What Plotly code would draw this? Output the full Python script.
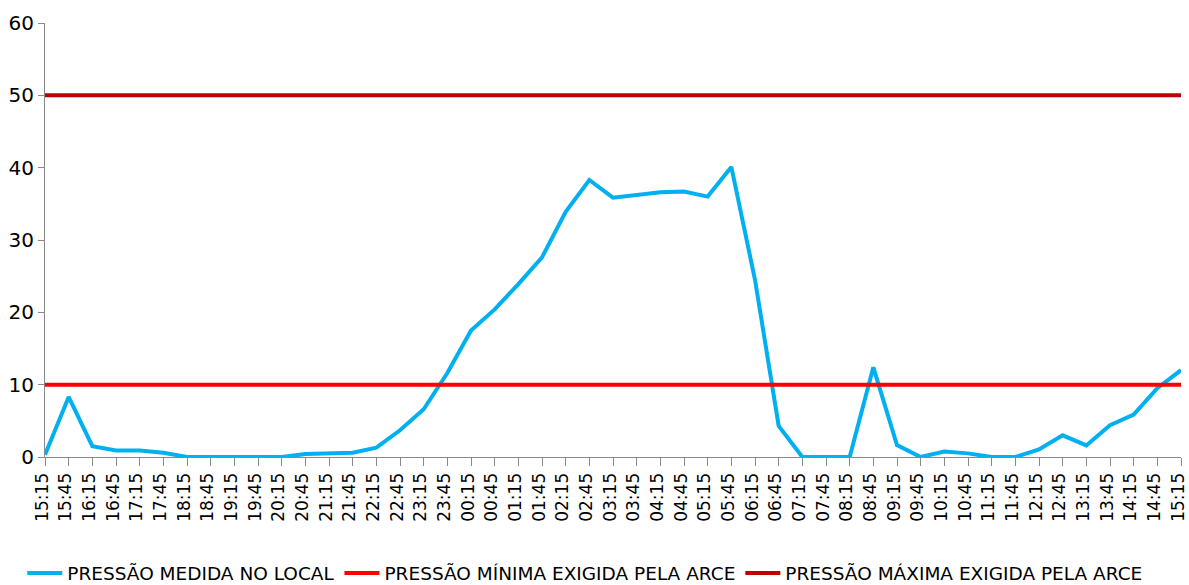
import plotly.graph_objects as go

times = ["15:15","15:45","16:15","16:45","17:15","17:45","18:15","18:45","19:15","19:45",
         "20:15","20:45","21:15","21:45","22:15","22:45","23:15","23:45","00:15","00:45",
         "01:15","01:45","02:15","02:45","03:15","03:45","04:15","04:45","05:15","05:45",
         "06:15","06:45","07:15","07:45","08:15","08:45","09:15","09:45","10:15","10:45",
         "11:15","11:45","12:15","12:45","13:15","13:45","14:15","14:45","15:15"]
medida = [0.3, 8.3, 1.5, 0.9, 0.9, 0.6, 0.0, 0.0, 0.0, 0.0,
          0.0, 0.4, 0.45, 0.6, 1.3, 3.7, 6.6, 11.6, 17.5, 20.4,
          23.9, 27.6, 33.9, 38.3, 35.85, 36.2, 36.6, 36.7, 36.0, 40.1,
          24.5, 4.3, 0.0, 0.0, 0.0, 12.4, 1.65, 0.0, 0.75, 0.5,
          0.0, 0.0, 1.05, 3.0, 1.6, 4.4, 5.85, 9.5, 12.0]
minima = [10] * len(times)
maxima = [50] * len(times)
idx = list(range(len(times)))

fig = go.Figure()
fig.add_trace(go.Scatter(x=idx, y=medida, mode="lines", name="PRESSÃO MEDIDA NO LOCAL",
                         line=dict(color="#00B0F0", width=4)))
fig.add_trace(go.Scatter(x=idx, y=minima, mode="lines", name="PRESSÃO MÍNIMA EXIGIDA PELA ARCE",
                         line=dict(color="#FF0000", width=4)))
fig.add_trace(go.Scatter(x=idx, y=maxima, mode="lines", name="PRESSÃO MÁXIMA EXIGIDA PELA ARCE",
                         line=dict(color="#C00000", width=4)))

fig.update_layout(
    width=1189, height=585,
    margin=dict(l=45, r=8, t=23, b=128, autoexpand=False),
    paper_bgcolor="white", plot_bgcolor="white",
    font=dict(family="DejaVu Sans", size=18, color="#000000"),
    showlegend=True,
    legend=dict(orientation="h", x=-0.020, xanchor="left", y=-0.2685, yanchor="middle",
                font=dict(size=18.5), itemwidth=35, tracegroupgap=0,
                bgcolor="rgba(0,0,0,0)"),
    xaxis=dict(range=[0, len(times) - 1], tickmode="array", tickvals=idx, ticktext=times,
               showgrid=False, automargin=False, ticklabeloverflow="allow",
               ticklabelshift=-3,
               showline=True, linecolor="#898989", linewidth=1,
               ticks="outside", ticklen=8, tickcolor="#898989",
               tickangle=-90, tickfont=dict(size=17), zeroline=False),
    yaxis=dict(range=[0, 60], dtick=10, showgrid=False, showline=True, automargin=False,
               ticklabeloverflow="allow",
               linecolor="#898989", linewidth=1, ticks="outside", ticklen=6,
               tickcolor="#898989", tickfont=dict(size=20), zeroline=False),
)
fig.write_html("out.html", config={"displayModeBar": False},
               post_script="document.body.style.margin='0px';")
